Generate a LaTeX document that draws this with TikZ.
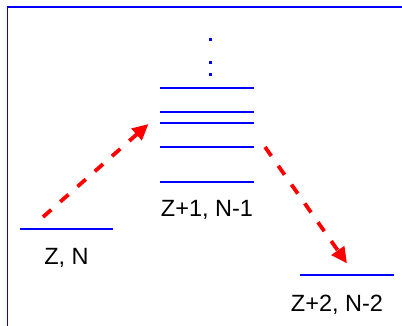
\documentclass[tikz,border=0pt]{standalone}
\usepackage{fontspec}
\setmainfont{Liberation Sans}
\usetikzlibrary{arrows.meta}
\begin{document}
\begin{tikzpicture}[x=1pt,y=-1pt,
  level/.style={draw=blue,line width=2pt},
  lbl/.style={anchor=base,inner sep=0pt,font=\fontsize{23.5}{28}\selectfont},
  jump/.style={draw=red,line width=3.8pt,dash pattern=on 11pt off 12pt,
    -{Triangle[length=16pt,width=15pt]}},
  dot/.style={fill=blue,minimum size=3pt,inner sep=0pt,draw=none}]
\useasboundingbox (0,0) rectangle (402,326);
% frame
\draw[blue,line width=1.2pt] (7.5,326) -- (7.5,7) -- (402,7);
% left level
\coordinate (l1) at (20,229); \coordinate (l2) at (113,229);
\draw[level] (l1) -- (l2);
\node[lbl] (zn) at (66.5,264) {Z, N};
% middle levels
\foreach \i/\y in {a/88.3,b/111.7,c/123.3,d/146.7,e/182.3}{
  \coordinate (m\i1) at (160,\y); \coordinate (m\i2) at (254,\y);
  \draw[level] (m\i1) -- (m\i2);
}
\node[lbl] (zn1) at (207,217) {Z+1, N-1};
\node[dot] (d1) at (210,40) {};
\node[dot] (d2) at (210,63) {};
\node[dot] (d3) at (210,75) {};
% right level
\coordinate (r1) at (300,275); \coordinate (r2) at (394,275);
\draw[level] (r1) -- (r2);
\node[lbl] (zn2) at (337,311.5) {Z+2, N-2};
% arrows
\coordinate (a1s) at (43,217); \coordinate (a1e) at (148.5,124);
\coordinate (a2s) at (265,147); \coordinate (a2e) at (347,263.5);
\draw[jump] (a1s) -- (a1e);
\draw[jump] (a2s) -- (a2e);
\end{tikzpicture}
\end{document}
